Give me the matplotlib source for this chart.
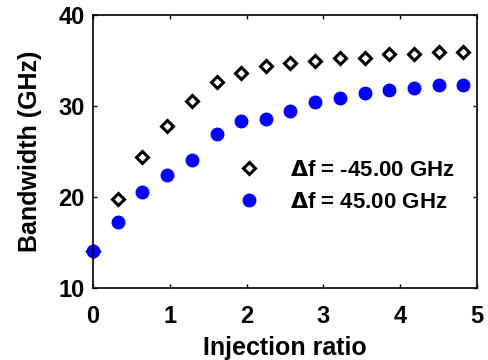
import numpy as np
import matplotlib.pyplot as plt

plt.rcParams['font.family'] = ['Liberation Sans', 'DejaVu Sans']
plt.rcParams['font.weight'] = 'bold'

# Injection ratio values
injection_ratio = [0.00, 0.32, 0.64, 0.96, 1.29, 1.61, 1.93, 2.25,
                   2.57, 2.89, 3.21, 3.54, 3.86, 4.18, 4.50, 4.82]
# Bandwidth (GHz) for each detuning
bw_neg45 = [14.1, 19.8, 24.4, 27.8, 30.6, 32.6, 33.6, 34.4,
            34.7, 35.0, 35.3, 35.3, 35.7, 35.7, 35.9, 35.9]
bw_pos45 = [14.1, 17.3, 20.6, 22.4, 24.1, 26.9, 28.4, 28.6,
            29.4, 30.4, 30.9, 31.4, 31.8, 32.0, 32.3, 32.3]

fig = plt.figure(figsize=(4.89, 3.6), dpi=100)
ax = fig.add_axes([93 / 489, 1 - 288 / 360, 384 / 489, 273 / 360])

ax.plot(injection_ratio, bw_neg45, linestyle='none', marker='D', markersize=6.5,
        markerfacecolor='white', markeredgecolor='black', markeredgewidth=2.2,
        label=r'$\mathbf{\Delta}$f = -45.00 GHz', clip_on=False)
ax.plot(injection_ratio, bw_pos45, linestyle='none', marker='o', markersize=9,
        color='#0000ff', label=r'$\mathbf{\Delta}$f = 45.00 GHz', clip_on=False)

ax.set_xlim(0, 5)
ax.set_ylim(10, 40)
ax.set_xticks([0, 1, 2, 3, 4, 5])
ax.set_yticks([10, 20, 30, 40])
ax.tick_params(direction='in', length=3, width=1, top=True, right=True,
               labelsize=17)
ax.tick_params(axis='y', pad=6)
ax.tick_params(axis='x', pad=12)
for lbl in ax.get_xticklabels() + ax.get_yticklabels():
    lbl.set_fontweight('bold')
for s in ax.spines.values():
    s.set_linewidth(1.2)

ax.set_xlabel('Injection ratio', fontsize=18, fontweight='bold', labelpad=6)
ax.set_ylabel('Bandwidth (GHz)', fontsize=18, fontweight='bold', labelpad=12)

leg = ax.legend(loc='upper left', bbox_to_anchor=(193 / 489, 1 - 140 / 360),
                bbox_transform=fig.transFigure, frameon=True,
                edgecolor='none', facecolor='white', framealpha=1,
                prop={'size': 16, 'weight': 'bold'}, handlelength=3.2,
                handletextpad=0.25, labelspacing=0.5, borderpad=0.4)

fig.savefig('out.png', dpi=100)
